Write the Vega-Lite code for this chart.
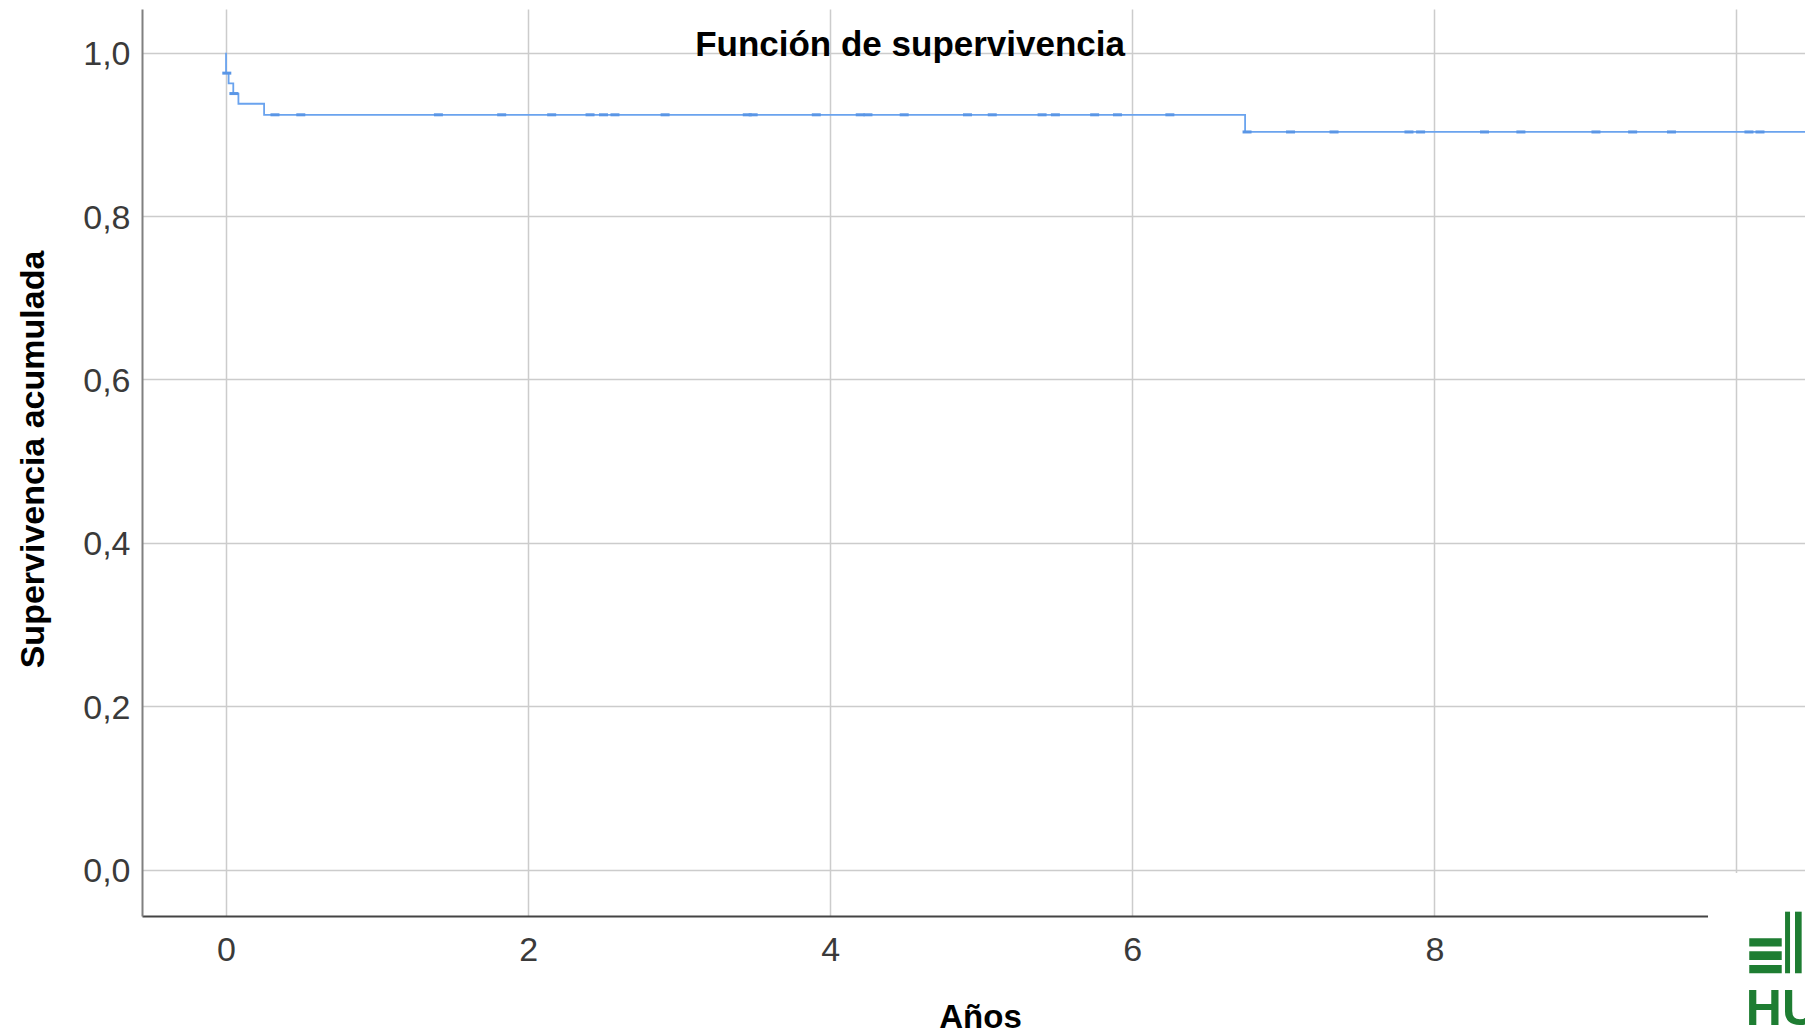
{
  "$schema": "https://vega.github.io/schema/vega-lite/v6.json",
  "width": 1663,
  "height": 907,
  "autosize": {"type": "none"},
  "padding": {"left": 142, "top": 9, "right": 0, "bottom": 118},
  "background": "white",
  "datasets": {
    "curve": [
      {"t": 0, "s": 1.0},
      {"t": 0, "s": 0.975},
      {"t": 0.017, "s": 0.9625},
      {"t": 0.048, "s": 0.95},
      {"t": 0.082, "s": 0.9375},
      {"t": 0.252, "s": 0.924},
      {"t": 6.747, "s": 0.903},
      {"t": 10.6, "s": 0.903}
    ],
    "censor": [
      {"t": 0.005, "s": 0.975},
      {"t": 0.052, "s": 0.95},
      {"t": 0.324, "s": 0.924},
      {"t": 0.495, "s": 0.924},
      {"t": 1.406, "s": 0.924},
      {"t": 1.825, "s": 0.924},
      {"t": 2.156, "s": 0.924},
      {"t": 2.41, "s": 0.924},
      {"t": 2.499, "s": 0.924},
      {"t": 2.575, "s": 0.924},
      {"t": 2.907, "s": 0.924},
      {"t": 3.451, "s": 0.924},
      {"t": 3.49, "s": 0.924},
      {"t": 3.908, "s": 0.924},
      {"t": 4.199, "s": 0.924},
      {"t": 4.25, "s": 0.924},
      {"t": 4.49, "s": 0.924},
      {"t": 4.909, "s": 0.924},
      {"t": 5.073, "s": 0.924},
      {"t": 5.403, "s": 0.924},
      {"t": 5.491, "s": 0.924},
      {"t": 5.751, "s": 0.924},
      {"t": 5.902, "s": 0.924},
      {"t": 6.249, "s": 0.924},
      {"t": 6.76, "s": 0.903},
      {"t": 7.048, "s": 0.903},
      {"t": 7.336, "s": 0.903},
      {"t": 7.832, "s": 0.903},
      {"t": 7.909, "s": 0.903},
      {"t": 8.332, "s": 0.903},
      {"t": 8.573, "s": 0.903},
      {"t": 9.07, "s": 0.903},
      {"t": 9.313, "s": 0.903},
      {"t": 9.57, "s": 0.903},
      {"t": 10.083, "s": 0.903},
      {"t": 10.156, "s": 0.903}
    ],
    "titleText": [
      {"t": 4.529, "s": 0.9965, "label": "Función de supervivencia"}
    ],
    "logoBg": [
      {"t": 9.812, "t2": 10.7, "s": -0.004, "s2": -0.25}
    ],
    "logoBars": [
      {"t": 10.085, "t2": 10.3, "s": -0.084, "s2": -0.094},
      {"t": 10.085, "t2": 10.3, "s": -0.1, "s2": -0.1105},
      {"t": 10.085, "t2": 10.3, "s": -0.1166, "s2": -0.1268},
      {"t": 10.322, "t2": 10.355, "s": -0.0514, "s2": -0.1268},
      {"t": 10.388, "t2": 10.432, "s": -0.0514, "s2": -0.1268}
    ],
    "logoText": [
      {"t": 10.062, "s": -0.19, "label": "HU"}
    ]
  },
  "encoding": {
    "x": {
      "field": "t",
      "type": "quantitative",
      "scale": {"domain": [-0.5564, 10.4541], "nice": false, "zero": false},
      "axis": {
        "values": [0, 2, 4, 6, 8, 10],
        "labelExpr": "datum.value <= 8 ? datum.label : ''",
        "labelFlush": false,
        "labelOverlap": false,
        "ticks": false,
        "grid": true,
        "gridColor": "#cccccc",
        "gridWidth": 1.5,
        "domainColor": "#444444",
        "domainWidth": 2,
        "labelFont": "Liberation Sans",
        "labelFontSize": 34,
        "labelColor": "#3a3a3a",
        "labelPadding": 17,
        "title": "Años",
        "titleFont": "Liberation Sans",
        "titleFontSize": 33,
        "titleFontWeight": "bold",
        "titleColor": "#000000",
        "titleX": 838,
        "titleY": 111,
        "titleAlign": "center",
        "titleBaseline": "alphabetic"
      }
    },
    "y": {
      "field": "s",
      "type": "quantitative",
      "scale": {"domain": [-0.0567, 1.0535], "nice": false, "zero": false},
      "axis": {
        "values": [0, 0.2, 0.4, 0.6, 0.8, 1.0],
        "labelExpr": "replace(format(datum.value, '.1f'), '.', ',')",
        "labelOverlap": false,
        "ticks": false,
        "grid": true,
        "gridColor": "#cccccc",
        "gridWidth": 1.5,
        "domainColor": "#808080",
        "domainWidth": 2,
        "labelFont": "Liberation Sans",
        "labelFontSize": 34,
        "labelColor": "#3a3a3a",
        "labelPadding": 12,
        "labelBaseline": "middle",
        "labelOffset": 2,
        "title": "Supervivencia acumulada",
        "titleFont": "Liberation Sans",
        "titleFontSize": 34,
        "titleFontWeight": "bold",
        "titleColor": "#000000",
        "titleAngle": -90,
        "titleX": -109,
        "titleY": 450,
        "titleAlign": "center",
        "titleBaseline": "middle"
      }
    }
  },
  "layer": [
    {
      "data": {"name": "curve"},
      "mark": {"type": "line", "interpolate": "step-after", "color": "#6aa3ee", "strokeWidth": 1.8}
    },
    {
      "data": {"name": "censor"},
      "mark": {"type": "tick", "orient": "horizontal", "size": 9, "thickness": 3, "color": "#5a96e6", "opacity": 1}
    },
    {
      "data": {"name": "titleText"},
      "mark": {"type": "text", "align": "center", "baseline": "alphabetic", "font": "Liberation Sans", "fontSize": 35, "fontWeight": "bold", "color": "#000000"},
      "encoding": {"text": {"field": "label"}}
    },
    {
      "data": {"name": "logoBg"},
      "mark": {"type": "rect", "color": "white", "opacity": 1},
      "encoding": {"x2": {"field": "t2"}, "y2": {"field": "s2"}}
    },
    {
      "data": {"name": "logoBars"},
      "mark": {"type": "rect", "color": "#1e7d32", "opacity": 1},
      "encoding": {"x2": {"field": "t2"}, "y2": {"field": "s2"}}
    },
    {
      "data": {"name": "logoText"},
      "mark": {"type": "text", "align": "left", "baseline": "alphabetic", "font": "Liberation Sans", "fontSize": 50, "fontWeight": "bold", "color": "#1e7d32"},
      "encoding": {"text": {"field": "label"}}
    }
  ],
  "config": {
    "view": {"stroke": null}
  }
}
